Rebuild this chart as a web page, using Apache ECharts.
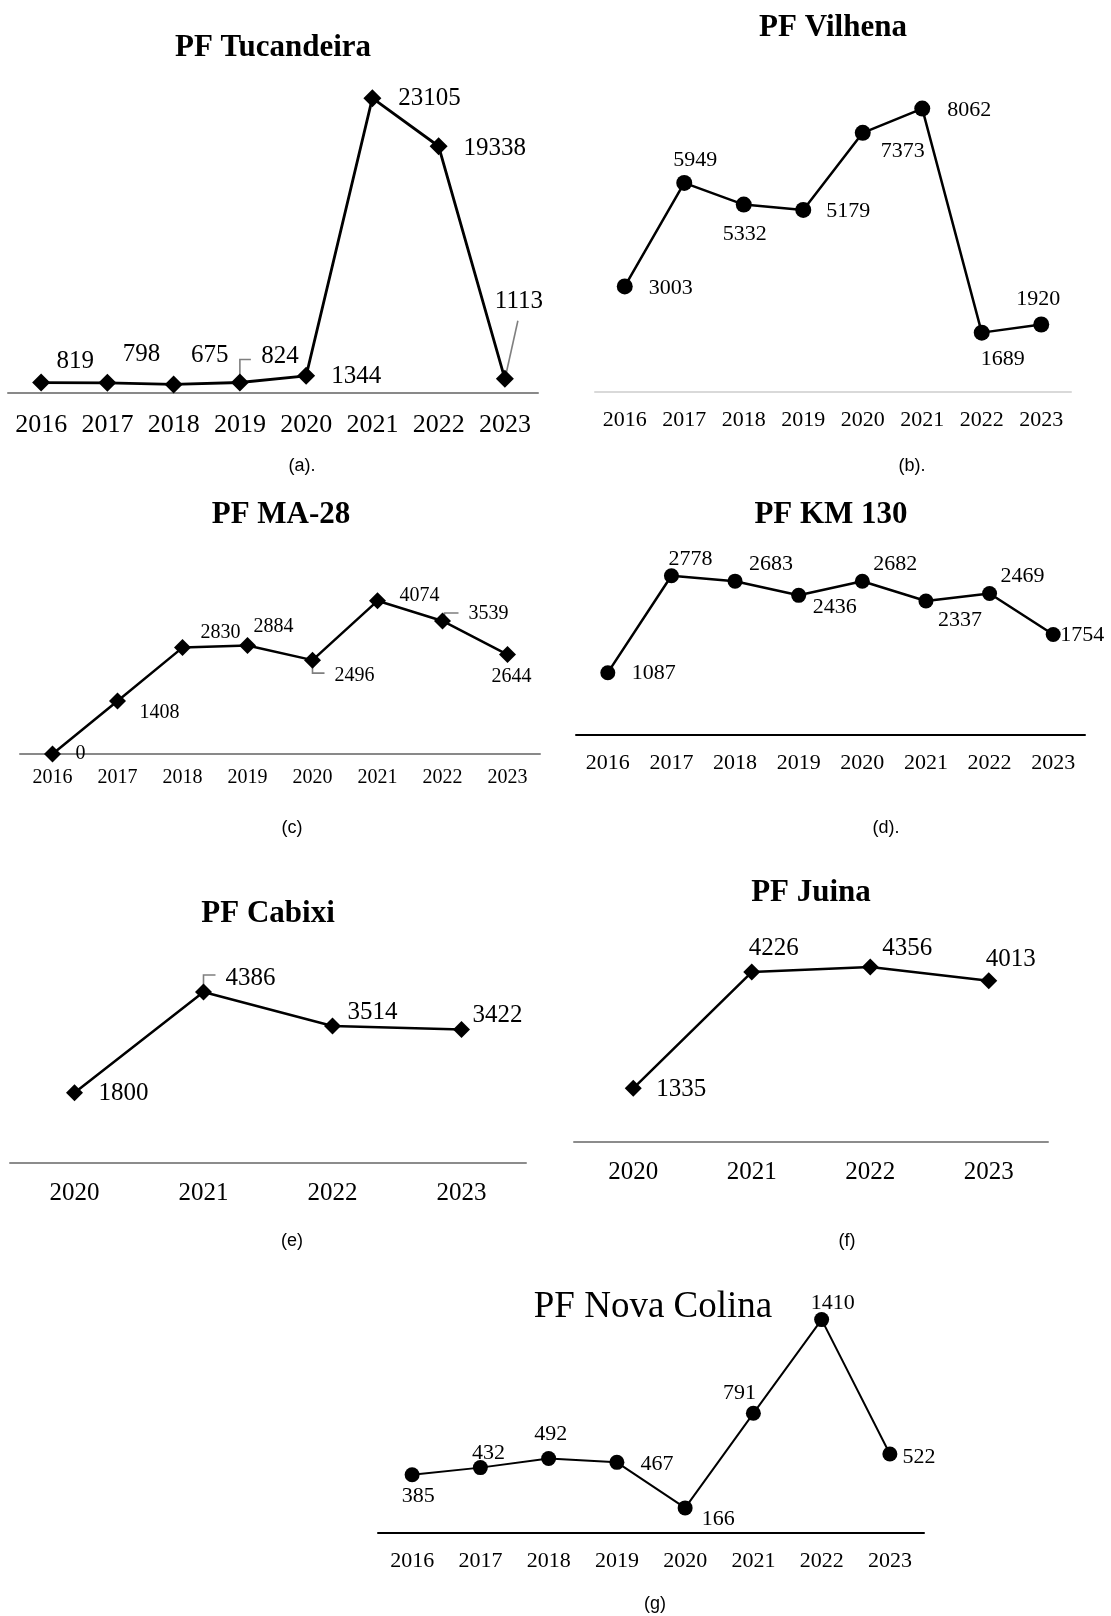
<!DOCTYPE html>
<html><head><meta charset="utf-8">
<script src="https://cdn.jsdelivr.net/npm/echarts@6/dist/echarts.min.js"></script>
<style>html,body{margin:0;padding:0;background:#fff}#c{width:1111px;height:1616px}</style>
</head><body><div id="c"></div>
<script>
// ---- data ----
const years8 = ['2016','2017','2018','2019','2020','2021','2022','2023'];
const years4 = ['2020','2021','2022','2023'];
const tucandeira = [819, 798, 675, 824, 1344, 23105, 19338, 1113];
const vilhena = [3003, 5949, 5332, 5179, 7373, 8062, 1689, 1920];
const ma28 = [0, 1408, 2830, 2884, 2496, 4074, 3539, 2644];
const km130 = [1087, 2778, 2683, 2436, 2682, 2337, 2469, 1754];
const cabixi = [1800, 4386, 3514, 3422];
const juina = [1335, 4226, 4356, 4013];
const novaColina = [385, 432, 492, 467, 166, 791, 1410, 522];

// ---- layout / style ----
const SERIF = '"Liberation Serif", "Times New Roman", serif';
const SANS = '"Liberation Sans", Arial, sans-serif';
const panels = [
  {title:'PF Tucandeira', tx:273, ty:48, tSize:31, tWeight:'bold', cap:'(a).', cx:302, cy:466,
   cats:years8, data:tucandeira, left:8, width:530, top:74, height:319, max:25000, axisColor:'#898989',
   font:26, labelFont:25, margin:19, symbol:'diamond', symSize:18, lineWidth:2.8,
   offsets:[[34,-21],[34,-28],[36,-29],[40,-26],[50,1],[57,0],[56,2],[14,-77]],
   leaders:{3:[[0,-3],[0,-23],[11,-23]], 7:[[1,-4],[13,-58]]}},
  {title:'PF Vilhena', tx:833, ty:28, tSize:31, tWeight:'bold', cap:'(b).', cx:912, cy:466,
   cats:years8, data:vilhena, left:595, width:476, top:40.5, height:351.5, max:10000, axisColor:'#d9d9d9',
   font:22, labelFont:22, margin:17, symbol:'circle', symSize:16, lineWidth:2.5,
   offsets:[[46,2],[11,-23],[1,30],[45,1],[40,18],[47,2],[21,27],[-3,-25]], leaders:{}},
  {title:'PF MA-28', tx:281, ty:515, tSize:31, tWeight:'bold', cap:'(c)', cx:292, cy:828,
   cats:years8, data:ma28, left:20, width:520, top:566, height:188, max:5000, axisColor:'#898989',
   font:20, labelFont:20, margin:14, symbol:'diamond', symSize:17, lineWidth:2.5,
   offsets:[[28,0],[42,12],[38,-15],[26,-19],[42,16],[42,-5],[46,-7],[4,22]],
   leaders:{4:[[0,3],[0,13],[12,13]], 6:[[2,-3],[2,-8],[16,-8]]}},
  {title:'PF KM 130', tx:831, ty:515, tSize:31, tWeight:'bold', cap:'(d).', cx:886, cy:828,
   cats:years8, data:km130, left:576, width:509, top:563, height:172, max:3000, axisColor:'#000000',
   font:22, labelFont:22, margin:17, symbol:'circle', symSize:15, lineWidth:2.5,
   offsets:[[46,1],[19,-17],[36,-17],[36,12],[33,-17],[34,19],[33,-17],[29,1]], leaders:{}},
  {title:'PF Cabixi', tx:268, ty:914, tSize:31, tWeight:'bold', cap:'(e)', cx:292, cy:1241,
   cats:years4, data:cabixi, left:10, width:516, top:968, height:195, max:5000, axisColor:'#8c8c8c',
   font:25, labelFont:25, margin:18, symbol:'diamond', symSize:17, lineWidth:2.5,
   offsets:[[49,1],[47,-14],[40,-14],[36,-14]],
   leaders:{1:[[0,-3],[0,-17],[12,-17]]}},
  {title:'PF Juina', tx:811, ty:893, tSize:31, tWeight:'bold', cap:'(f)', cx:847, cy:1241,
   cats:years4, data:juina, left:574, width:474, top:941, height:201, max:5000, axisColor:'#8c8c8c',
   font:25, labelFont:25, margin:18, symbol:'diamond', symSize:17, lineWidth:2.5,
   offsets:[[48,1],[22,-24],[37,-18],[22,-21]], leaders:{}},
  {title:'PF Nova Colina', tx:653, ty:1307, tSize:37, tWeight:'normal', cap:'(g)', cx:655, cy:1604,
   cats:years8, data:novaColina, left:378, width:546, top:1306, height:227, max:1500, axisColor:'#000000',
   font:22, labelFont:22, margin:17, symbol:'circle', symSize:15, lineWidth:2,
   offsets:[[6,21],[8,-14],[2,-24],[40,2],[33,11],[-14,-20],[11,-16],[29,3]], leaders:{}}
];

const grid = [], xAxis = [], yAxis = [], series = [], graphic = [];
panels.forEach((p, i) => {
  grid.push({left:p.left, top:p.top, width:p.width, height:p.height, containLabel:false});
  xAxis.push({type:'category', gridIndex:i, data:p.cats, boundaryGap:true,
    axisLine:{show:true, lineStyle:{color:p.axisColor, width:2}},
    axisTick:{show:false}, splitLine:{show:false},
    axisLabel:{fontFamily:SERIF, fontSize:p.font, color:'#000', margin:p.margin, interval:0}});
  yAxis.push({type:'value', gridIndex:i, min:0, max:p.max, show:false, splitLine:{show:false}});
  series.push({type:'line', xAxisIndex:i, yAxisIndex:i, symbol:p.symbol, symbolSize:p.symSize,
    showAllSymbol:true, silent:true, animation:false,
    lineStyle:{color:'#000', width:p.lineWidth}, itemStyle:{color:'#000'},
    label:{show:true, position:'inside', align:'center', verticalAlign:'middle',
      fontFamily:SERIF, fontSize:p.labelFont, color:'#000'},
    data:p.data.map((v, k) => ({value:v, label:{offset:p.offsets[k]}}))
  });
  graphic.push({type:'text', x:p.tx, y:p.ty, style:{text:p.title, fontFamily:SERIF, fontSize:p.tSize,
    fontWeight:p.tWeight, fill:'#000', align:'center', verticalAlign:'middle'}});
  graphic.push({type:'text', x:p.cx, y:p.cy, style:{text:p.cap, fontFamily:SANS, fontSize:18,
    fill:'#000', align:'center', verticalAlign:'middle'}});
});

const chart = echarts.init(document.getElementById('c'), null, {renderer:'canvas'});
chart.setOption({animation:false, backgroundColor:'#fff', grid, xAxis, yAxis, series, graphic});

// leader lines anchored at the data points (pixel position from the library's scales)
const leaderGraphics = graphic.slice();
panels.forEach((p, i) => {
  Object.keys(p.leaders).forEach(k => {
    const idx = +k;
    const pt = chart.convertToPixel({seriesIndex:i}, [idx, p.data[idx]]);
    const pts = p.leaders[k].map(d => [pt[0] + d[0], pt[1] + d[1]]);
    leaderGraphics.push({type:'polyline', z:1, shape:{points:pts},
      style:{stroke:'#7f7f7f', lineWidth:1.6, fill:null}});
  });
});
chart.setOption({graphic:leaderGraphics});
</script>
</body></html>
